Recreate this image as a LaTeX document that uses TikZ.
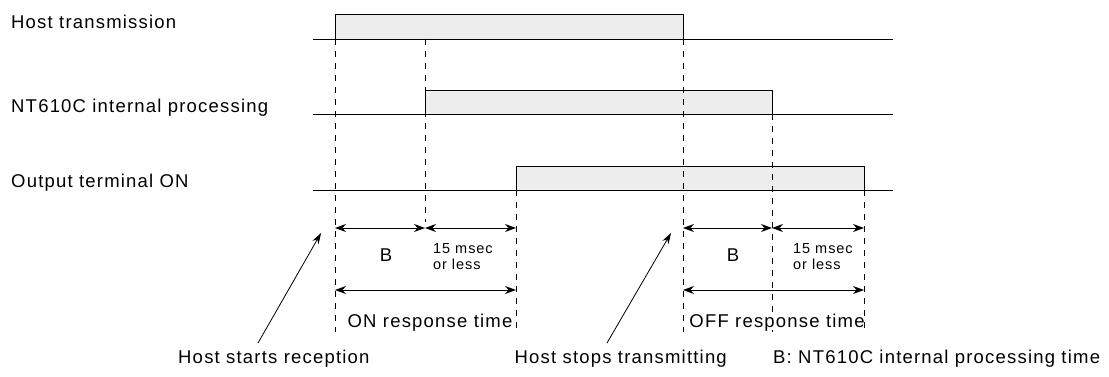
\documentclass[tikz,border=0pt]{standalone}
\usepackage{fontspec}
\setmainfont[LetterSpace=6.5]{Liberation Sans}
\usetikzlibrary{arrows.meta}
\tikzset{
  sig/.style={draw=black, line width=1pt, fill=black!7},
  base/.style={draw=black, line width=0.9pt},
  guide/.style={draw=black, line width=0.8pt, dash pattern=on 6pt off 6pt},
  dim/.style={draw=black, line width=1pt, {Stealth[length=11pt,width=8pt]}-{Stealth[length=11pt,width=8pt]}},
  ptr/.style={draw=black, line width=0.8pt, -{Stealth[length=11pt,width=7pt]}},
  lbl/.style={inner sep=0pt, font=\fontsize{18.5}{20}\selectfont},
  small/.style={inner sep=0pt, font=\fontsize{14.5}{16}\selectfont, align=left},
}
\begin{document}
\begin{tikzpicture}[x=1pt,y=-1pt]
\useasboundingbox (0,0) rectangle (1109,377);
% row labels
\node[lbl, anchor=base west] (l1) at (11,29) {Host transmission};
\node[lbl, anchor=base west] (l2) at (11,113) {NT610C internal processing};
\node[lbl, anchor=base west] (l3) at (11,188) {Output terminal ON};
% signals
\path[sig] (335,39) -- (335,15) -- (683,15) -- (683,39);
\path[sig] (425,114) -- (425,91) -- (772,91) -- (772,114);
\path[sig] (516,190) -- (516,167) -- (864,167) -- (864,190);
\draw[base] (313,39) -- (893,39);
\draw[base] (313,114) -- (893,114);
\draw[base] (313,190) -- (893,190);
% guides
\draw[guide] (335,39) -- (335,332);
\draw[guide] (425,39) -- (425,222);
\draw[guide] (516,190) -- (516,332);
\draw[guide] (683,39) -- (683,332);
\draw[guide] (772,114) -- (772,332);
\draw[guide] (864,190) -- (864,332);
% dimension arrows ON
\coordinate (a0) at (335,228);
\coordinate (a1) at (425,228);
\coordinate (a2) at (516,228);
\coordinate (b0) at (335,290);
\coordinate (b2) at (516,290);
\draw[dim] (a0) -- (a1);
\draw[dim] (a1) -- (a2);
\draw[dim] (b0) -- (b2);
% dimension arrows OFF
\coordinate (c0) at (683,228);
\coordinate (c1) at (772,228);
\coordinate (c2) at (864,228);
\coordinate (d0) at (683,290);
\coordinate (d2) at (864,290);
\draw[dim] (c0) -- (c1);
\draw[dim] (c1) -- (c2);
\draw[dim] (d0) -- (d2);
% labels
\node[lbl, anchor=base] (bon) at (386,261) {B};
\node[small, anchor=base west] (son) at (433,253) {15 msec};
\node[small, anchor=base west] (son2) at (433,269) {or less};
\node[lbl, anchor=base] (ron) at (430,327) {ON response time};
\node[lbl, anchor=base] (boff) at (733,261) {B};
\node[small, anchor=base west] (soff) at (793,253) {15 msec};
\node[small, anchor=base west] (soff2) at (793,269) {or less};
\node[lbl, anchor=base] (roff) at (777,327) {OFF response time};
% bottom labels and pointers
\node[lbl, anchor=base west] (hs) at (178,363) {Host starts reception};
\node[lbl, anchor=base east] (ht) at (727,363) {Host stops transmitting};
\node[lbl, anchor=base west] (bn) at (773,363) {B: NT610C internal processing time};
\coordinate (p1) at (321,233);
\coordinate (p2) at (671,233);
\draw[ptr] (258,343) -- (p1);
\draw[ptr] (607,343) -- (p2);
\end{tikzpicture}
\end{document}
